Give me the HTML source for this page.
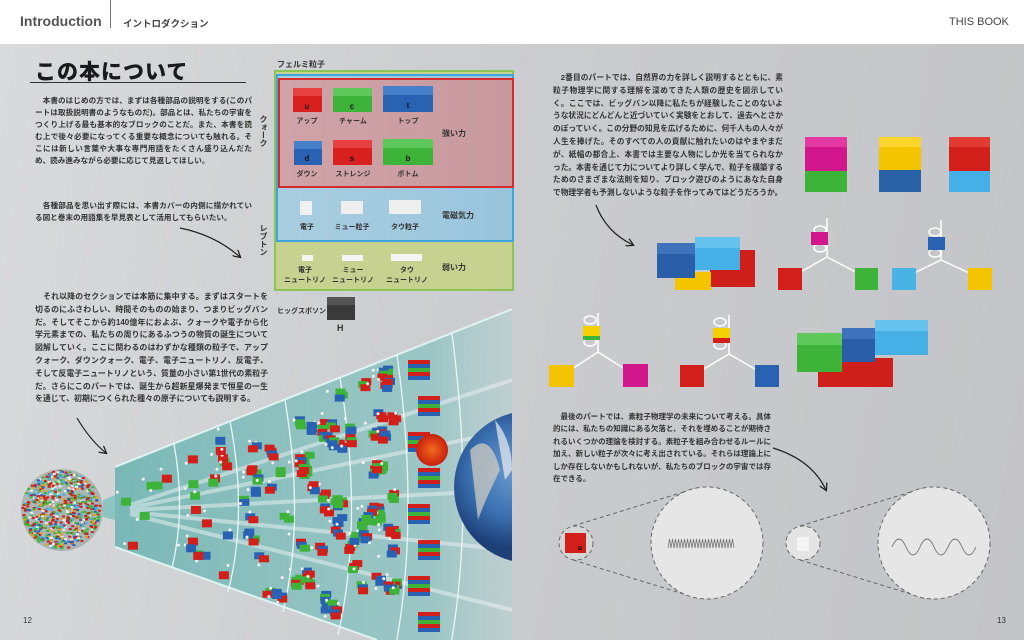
<!DOCTYPE html>
<html><head><meta charset="utf-8">
<style>
*{margin:0;padding:0;box-sizing:border-box}
body{width:1024px;height:640px;overflow:hidden;position:relative;font-family:"Liberation Sans","Noto Sans CJK JP",sans-serif;color:#2b2b2b;background:linear-gradient(100deg,#d9dadc 0%,#cdced1 40%,#c9cacd 60%,#c3c4c7 100%)}
.hdr{position:absolute;left:0;top:0;width:1024px;height:44px;background:#fff}
.abs{position:absolute}
.p{position:absolute;font-size:7.6px;font-weight:bold;line-height:11.9px;color:#333;text-align:justify}
.lbl{position:absolute;font-size:7px;font-weight:bold;color:#333;text-align:center;line-height:10px}
.fl{position:absolute;font-size:8px;font-weight:bold;color:#333}
.vt{position:absolute;font-size:8px;font-weight:bold;writing-mode:vertical-rl;color:#333;line-height:9px}
</style></head><body>
<div class="hdr"></div>
<div class="abs" style="left:20px;top:13px;font-size:14px;font-weight:bold;color:#555">Introduction</div>
<div class="abs" style="left:110px;top:0;width:1px;height:28px;background:#777"></div>
<div class="abs" style="left:123px;top:16px;font-size:9.5px;font-weight:bold;color:#444">イントロダクション</div>
<div class="abs" style="left:949px;top:16px;font-size:11px;color:#444">THIS BOOK</div>

<div class="abs" style="left:35px;top:56px;font-size:21px;font-weight:900;color:#1a1a1a;letter-spacing:1px">この本について</div>
<div class="abs" style="left:30px;top:82px;width:216px;height:1px;background:#333"></div>
<div class="p" style="left:35px;top:95px;width:217px">　本書のはじめの方では、まずは各種部品の説明をする(このパートは取扱説明書のようなものだ)。部品とは、私たちの宇宙をつくり上げる最も基本的なブロックのことだ。また、本書を読む上で後々必要になってくる重要な概念についても触れる。そこには新しい言葉や大事な専門用語をたくさん盛り込んだため、読み進みながら必要に応じて見返してほしい。</div>
<div class="p" style="left:35px;top:200px;width:217px">　各種部品を思い出す際には、本書カバーの内側に描かれている図と巻末の用語集を早見表として活用してもらいたい。</div>
<div class="p" style="left:35px;top:291px;width:233px;line-height:12.8px;font-size:7.9px">　それ以降のセクションでは本筋に集中する。まずはスタートを切るのにふさわしい、時間そのものの始まり、つまりビッグバンだ。そしてそこから約140億年におよぶ、クォークや電子から化学元素までの、私たちの周りにあるふつうの物質の誕生について図解していく。ここに関わるのはわずかな種類の粒子で、アップクォーク、ダウンクォーク、電子、電子ニュートリノ、反電子、そして反電子ニュートリノという、質量の小さい第1世代の素粒子だ。さらにこのパートでは、誕生から超新星爆発まで恒星の一生を通じて、初期につくられた種々の原子についても説明する。</div>

<div class="p" style="left:553px;top:72px;width:230px;line-height:12.8px;font-size:7.7px">　2番目のパートでは、自然界の力を詳しく説明するとともに、素粒子物理学に関する理解を深めてきた人類の歴史を図示していく。ここでは、ビッグバン以降に私たちが経験したことのないような状況にどんどんと近づいていく実験をとおして、過去へとさかのぼっていく。この分野の知見を広げるために、何千人もの人々が人生を捧げた。そのすべての人の貢献に触れたいのはやまやまだが、紙幅の都合上、本書では主要な人物にしか光を当てられなかった。本書を通じて力についてより詳しく学んで、粒子を構築するためのさまざまな法則を知り、ブロック遊びのようにあなた自身で物理学者も予測しないような粒子を作ってみてはどうだろうか。</div>
<div class="p" style="left:553px;top:411px;width:218px;line-height:12.4px;font-size:7.5px">　最後のパートでは、素粒子物理学の未来について考える。具体的には、私たちの知識にある欠落と、それを埋めることが期待されるいくつかの理論を検討する。素粒子を組み合わせるルールに加え、新しい粒子が次々に考え出されている。それらは理論上にしか存在しないかもしれないが、私たちのブロックの宇宙では存在できる。</div>

<div class="abs" style="left:23px;top:616px;font-size:8px;color:#333">12</div>
<div class="abs" style="left:997px;top:616px;font-size:8px;color:#333">13</div>

<div class="fl" style="left:277px;top:59px">フェルミ粒子</div>
<div class="abs" style="left:274px;top:70px;width:240px;height:221px;border:2px solid #8dc454;background:#c8d290"></div>
<div class="abs" style="left:276px;top:74px;width:238px;height:168px;border:2px solid #3fa5dd;background:linear-gradient(90deg,#a9cde0,#99c5dd)"></div>
<div class="abs" style="left:278px;top:78px;width:236px;height:110px;border:2px solid #d62b2b;background:linear-gradient(90deg,#cfa3a8,#c89aa0)"></div>
<div class="vt" style="left:259px;top:115px">クォーク</div>
<div class="vt" style="left:259px;top:224px">レプトン</div>
<svg class="abs" style="left:0;top:0" width="1024" height="640">
<defs>
<linearGradient id="tg" x1="0" x2="1"><stop offset="0" stop-color="#6fb5b3" stop-opacity=".9"/><stop offset=".75" stop-color="#8cc4c2" stop-opacity=".75"/><stop offset="1" stop-color="#b9d6d6" stop-opacity=".3"/></linearGradient>
<radialGradient id="earth" cx=".4" cy=".4"><stop offset="0" stop-color="#6a9bd0"/><stop offset=".6" stop-color="#3a6fb0"/><stop offset="1" stop-color="#1d3f78"/></radialGradient>
<radialGradient id="sun"><stop offset="0" stop-color="#f26a1b"/><stop offset="1" stop-color="#c8200e"/></radialGradient>
<clipPath id="cl"><rect x="0" y="44" width="512" height="596"/></clipPath>
<marker id="ah" viewBox="0 0 10 10" refX="8" refY="5" markerWidth="7" markerHeight="7" orient="auto"><path d="M0,0 L9,5 L0,10" fill="none" stroke="#222" stroke-width="1.5"/></marker>
</defs>
<g>
<rect x="293" y="88" width="29" height="24" fill="#d8201f"/><rect x="293" y="88" width="29" height="8" fill="#e84040"/>
<rect x="333" y="88" width="39" height="24" fill="#3db33a"/><rect x="333" y="88" width="39" height="8" fill="#5ec85a"/>
<rect x="383" y="86" width="50" height="26" fill="#2a62b3"/><rect x="383" y="86" width="50" height="9" fill="#4580c8"/>
<rect x="294" y="141" width="28" height="24" fill="#2a62b3"/><rect x="294" y="141" width="28" height="8" fill="#4580c8"/>
<rect x="333" y="140" width="39" height="25" fill="#d8201f"/><rect x="333" y="140" width="39" height="8" fill="#e84040"/>
<rect x="383" y="139" width="50" height="26" fill="#3db33a"/><rect x="383" y="139" width="50" height="9" fill="#5ec85a"/>
<rect x="300" y="201" width="12" height="14" fill="#f0f0f0"/>
<rect x="341" y="201" width="22" height="13" fill="#eee"/>
<rect x="389" y="200" width="32" height="14" fill="#eee"/>
<rect x="302" y="255" width="11" height="6" fill="#f4f4f4"/>
<rect x="342" y="255" width="21" height="6" fill="#f4f4f4"/>
<rect x="391" y="254" width="31" height="7" fill="#f4f4f4"/>
<rect x="327" y="297" width="28" height="23" fill="#3a3a3a"/><rect x="327" y="297" width="28" height="8" fill="#555"/>
<g font-family="Liberation Sans" font-weight="bold" font-size="8" fill="#111" text-anchor="middle">
<text x="307" y="109">u</text><text x="352" y="109">c</text><text x="408" y="108">t</text>
<text x="307" y="161">d</text><text x="352" y="161">s</text><text x="408" y="161">b</text></g>
</g>
<g clip-path="url(#cl)">
<path d="M115,467 L540,298 L540,640 L377,640 L115,547 Z" fill="url(#tg)"/>
<path d="M115,467 L540,298 M115,547 L377,640" stroke="#dff3f1" stroke-width="2" fill="none"/>
<g stroke="#e8f6f5" stroke-width="1.3" fill="none">
<path d="M174,444 Q186,510 172,568"/><path d="M230,421 Q248,515 228,592"/><path d="M285,400 Q305,520 283,612"/>
<path d="M340,378 Q364,520 338,635"/><path d="M397,355 Q420,520 395,650"/><path d="M452,333 Q476,520 448,660"/>
</g>
<g stroke="#eef3f4" stroke-width="4" opacity=".5">
<line x1="130" y1="505" x2="512" y2="380"/><line x1="130" y1="508" x2="512" y2="430"/><line x1="130" y1="510" x2="512" y2="490"/><line x1="130" y1="512" x2="512" y2="550"/><line x1="130" y1="514" x2="512" y2="610"/>
</g>
<path d="M103,500 L115,495 L115,520 L103,517 Z" fill="#8cc4c2"/>
<g id="parts"></g>
<circle cx="432" cy="450" r="16" fill="url(#sun)"/>
<circle cx="530" cy="487" r="76" fill="url(#earth)"/>
<path d="M470,450 Q490,430 500,470 Q485,500 478,520 Z" fill="#d8d2c0" opacity=".7"/>
<path d="M495,420 Q512,440 512,470 L505,480 Z" fill="#eee" opacity=".7"/>
</g>
<circle cx="62" cy="510" r="41" fill="#5a7a70" opacity=".35"/>
<g id="ball"></g>
<g fill="none" stroke="#222" stroke-width="1.2" marker-end="url(#ah)">
<path d="M180,228 Q215,235 240,257"/>
<path d="M77,418 Q90,440 106,453"/>
<path d="M596,205 Q606,232 633,245"/>
<path d="M773,448 Q812,460 826,490"/>
</g>
<g>
<rect x="805" y="170" width="42" height="22" fill="#3db33a"/><rect x="805" y="137" width="42" height="34" fill="#d2168c"/><rect x="805" y="137" width="42" height="10" fill="#e23aa2"/>
<rect x="879" y="168" width="42" height="24" fill="#2a62a8"/><rect x="879" y="137" width="42" height="33" fill="#f5c400"/><rect x="879" y="137" width="42" height="10" fill="#fbd52c"/>
<rect x="949" y="170" width="41" height="22" fill="#45b0e6"/><rect x="949" y="137" width="41" height="34" fill="#d21f1a"/><rect x="949" y="137" width="41" height="10" fill="#e23b34"/>
<rect x="710" y="250" width="45" height="37" fill="#cf1f1b"/><rect x="675" y="272" width="36" height="18" fill="#f5c400"/>
<rect x="657" y="243" width="38" height="35" fill="#2a5ea8"/><rect x="657" y="243" width="38" height="11" fill="#3f74bd"/>
<rect x="695" y="237" width="45" height="33" fill="#45b0e6"/><rect x="695" y="237" width="45" height="11" fill="#66c2ee"/>
<g stroke="#fff" stroke-width="1.5" fill="none">
<path d="M790,278 L827,257 L867,278 M827,257 L827,218"/><ellipse cx="820" cy="230" rx="6" ry="4"/><ellipse cx="820" cy="248" rx="6" ry="4"/>
<path d="M904,278 L941,260 L980,278 M941,260 L941,220"/><ellipse cx="935" cy="232" rx="6" ry="4"/><ellipse cx="935" cy="253" rx="6" ry="4"/>
<path d="M561,376 L598,352 L636,376 M598,352 L598,313"/><ellipse cx="590" cy="320" rx="6" ry="4"/><ellipse cx="590" cy="342" rx="6" ry="4"/>
<path d="M692,376 L729,354 L767,376 M729,354 L729,315"/><ellipse cx="720" cy="322" rx="6" ry="4"/><ellipse cx="720" cy="345" rx="6" ry="4"/>
</g>
<rect x="778" y="268" width="24" height="22" fill="#d21f1a"/><rect x="855" y="268" width="23" height="22" fill="#3db33a"/><rect x="811" y="232" width="17" height="13" fill="#d2168c"/>
<rect x="892" y="268" width="24" height="22" fill="#4ab3e6"/><rect x="968" y="268" width="24" height="22" fill="#f5c400"/><rect x="928" y="237" width="17" height="13" fill="#2a62b3"/>
<rect x="549" y="365" width="25" height="22" fill="#f5c400"/><rect x="623" y="364" width="25" height="23" fill="#d2168c"/><rect x="583" y="326" width="17" height="10" fill="#f5d000"/><rect x="583" y="336" width="17" height="4" fill="#3db33a"/>
<rect x="680" y="365" width="24" height="22" fill="#d21f1a"/><rect x="755" y="365" width="24" height="22" fill="#2a62b3"/><rect x="713" y="328" width="17" height="10" fill="#f5d000"/><rect x="713" y="338" width="17" height="5" fill="#d21f1a"/>
<rect x="818" y="358" width="75" height="29" fill="#cf1f1b"/>
<rect x="797" y="333" width="45" height="39" fill="#3db33a"/><rect x="797" y="333" width="45" height="12" fill="#5ec85a"/>
<rect x="842" y="328" width="33" height="34" fill="#2a5ea8"/><rect x="842" y="328" width="33" height="11" fill="#3f74bd"/>
<rect x="875" y="320" width="53" height="35" fill="#45b0e6"/><rect x="875" y="320" width="53" height="11" fill="#66c2ee"/>
</g>
<g fill="#e6e6e6" stroke="#666" stroke-width="1" stroke-dasharray="4,3">
<line x1="573" y1="526" x2="700" y2="487"/><line x1="573" y1="560" x2="700" y2="599"/>
<line x1="800" y1="526" x2="927" y2="487"/><line x1="800" y1="560" x2="927" y2="599"/>
<circle cx="576" cy="543" r="17" fill="#d5d5d6"/><circle cx="707" cy="543" r="56"/>
<circle cx="803" cy="543" r="17" fill="#e4e4e4"/><circle cx="934" cy="543" r="56"/>
</g>
<rect x="565" y="533" width="21" height="20" fill="#d21f1a"/><text x="578" y="550" font-size="7" font-weight="bold" font-family="Liberation Sans">u</text>
<rect x="797" y="537" width="12" height="14" fill="#f4f4f4"/>
<path id="w1" d="" fill="none" stroke="#777" stroke-width="0.8"/>
<path d="M895,550 q7,-16 14,0 t14,0 t14,0 t14,0 t14,0 t14,0" fill="none" stroke="#777" stroke-width="0.9" transform="translate(-3,-3)"/>
</svg>
<div class="lbl" style="left:287px;top:117px;width:40px">アップ</div>
<div class="lbl" style="left:333px;top:117px;width:40px">チャーム</div>
<div class="lbl" style="left:388px;top:117px;width:40px">トップ</div>
<div class="lbl" style="left:287px;top:170px;width:40px">ダウン</div>
<div class="lbl" style="left:328px;top:170px;width:50px">ストレンジ</div>
<div class="lbl" style="left:388px;top:170px;width:40px">ボトム</div>
<div class="fl" style="left:442px;top:128px">強い力</div>
<div class="lbl" style="left:287px;top:223px;width:40px">電子</div>
<div class="lbl" style="left:327px;top:223px;width:50px">ミュー粒子</div>
<div class="lbl" style="left:380px;top:223px;width:50px">タウ粒子</div>
<div class="fl" style="left:442px;top:210px">電磁気力</div>
<div class="lbl" style="left:280px;top:266px;width:50px">電子<br>ニュートリノ</div>
<div class="lbl" style="left:328px;top:266px;width:50px">ミュー<br>ニュートリノ</div>
<div class="lbl" style="left:382px;top:266px;width:50px">タウ<br>ニュートリノ</div>
<div class="fl" style="left:442px;top:262px">弱い力</div>
<div class="fl" style="left:277px;top:306px;font-size:7px">ヒッグスボソン</div>
<div class="fl" style="left:337px;top:323px;font-size:9px">H</div>
<script>
(function(){
var NS="http://www.w3.org/2000/svg";
var s=1234567;function r(){s=(s*16807)%2147483647;return s/2147483647;}
var g=document.getElementById("parts");
var cols=["#d21f1a","#2a62b3","#3db33a"];
function rect(p,x,y,w,h,c){var e=document.createElementNS(NS,"rect");e.setAttribute("x",x);e.setAttribute("y",y);e.setAttribute("width",w);e.setAttribute("height",h);e.setAttribute("fill",c);p.appendChild(e);}
function inCone(x,y){var top=467-(x-115)*0.398;var bot=547+(x-115)*0.355;return y>top+6&&y<bot-8;}
var secs=[[120,170,1],[178,226,1],[234,282,2],[290,336,3],[344,392,3]];
secs.forEach(function(sc){for(var i=0;i<40;i++){var x=sc[0]+r()*(sc[1]-sc[0]);var y=330+r()*310;if(!inCone(x,y)||y>632)continue;
 if(sc[2]==1){rect(g,x,y,10,8,cols[Math.floor(r()*3)]);}
 else{for(var k=0;k<sc[2];k++)rect(g,x+(r()*6-3),y+k*3-3,10,7,cols[(k+Math.floor(r()*3))%3]);}
 var c=document.createElementNS(NS,"circle");c.setAttribute("cx",x+r()*20-10);c.setAttribute("cy",y+r()*20-10);c.setAttribute("r",1.5);c.setAttribute("fill","#f2f2f2");g.appendChild(c);}});
for(var j=0;j<8;j++){var y=360+j*36;if(y>630)break;for(var k=0;k<5;k++)rect(g,408+(j%2)*10,y+k*4,22,4,cols[k%3]);}
var b=document.getElementById("ball");var bc=["#d21f1a","#2a62b3","#3db33a","#45b0e6","#d21f1a","#3db33a","#e8a020","#eeeeee"];
for(var i=0;i<700;i++){var a=r()*6.283,d=Math.sqrt(r())*39;rect(b,62+Math.cos(a)*d-2,510+Math.sin(a)*d-1,3,2,bc[Math.floor(r()*8)]);}
var w="M668,548";for(var i=0;i<22;i++){w+=" l1.5,-9 l1.5,9";}document.getElementById("w1").setAttribute("d",w);
})();
</script>
</body></html>
